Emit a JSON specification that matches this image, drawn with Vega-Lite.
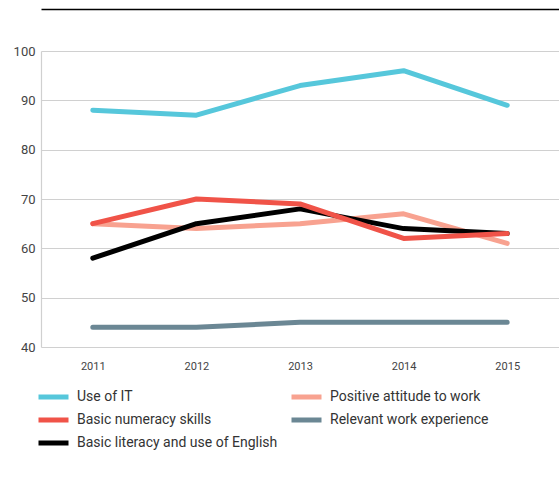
{
  "$schema": "https://vega.github.io/schema/vega-lite/v6.json",
  "autosize": {"type": "none"},
  "padding": {"left": 41, "top": 51, "right": 0, "bottom": 137},
  "width": 518,
  "height": 296,
  "config": {
    "font": "Roboto",
    "view": {"stroke": null},
    "axis": {"labelFont": "Roboto", "labelColor": "#444444"}
  },
  "data": {
    "values": [
      {"year": "2011", "series": "Use of IT", "value": 88},
      {"year": "2012", "series": "Use of IT", "value": 87},
      {"year": "2013", "series": "Use of IT", "value": 93},
      {"year": "2014", "series": "Use of IT", "value": 96},
      {"year": "2015", "series": "Use of IT", "value": 89},
      {"year": "2011", "series": "Relevant work experience", "value": 44},
      {"year": "2012", "series": "Relevant work experience", "value": 44},
      {"year": "2013", "series": "Relevant work experience", "value": 45},
      {"year": "2014", "series": "Relevant work experience", "value": 45},
      {"year": "2015", "series": "Relevant work experience", "value": 45},
      {"year": "2011", "series": "Positive attitude to work", "value": 65},
      {"year": "2012", "series": "Positive attitude to work", "value": 64},
      {"year": "2013", "series": "Positive attitude to work", "value": 65},
      {"year": "2014", "series": "Positive attitude to work", "value": 67},
      {"year": "2015", "series": "Positive attitude to work", "value": 61},
      {"year": "2011", "series": "Basic literacy and use of English", "value": 58},
      {"year": "2012", "series": "Basic literacy and use of English", "value": 65},
      {"year": "2013", "series": "Basic literacy and use of English", "value": 68},
      {"year": "2014", "series": "Basic literacy and use of English", "value": 64},
      {"year": "2015", "series": "Basic literacy and use of English", "value": 63},
      {"year": "2011", "series": "Basic numeracy skills", "value": 65},
      {"year": "2012", "series": "Basic numeracy skills", "value": 70},
      {"year": "2013", "series": "Basic numeracy skills", "value": 69},
      {"year": "2014", "series": "Basic numeracy skills", "value": 62},
      {"year": "2015", "series": "Basic numeracy skills", "value": 63}
    ]
  },
  "layer": [
    {
      "mark": {"type": "line", "strokeWidth": 5, "strokeCap": "round", "strokeJoin": "round"},
      "encoding": {
        "x": {
          "field": "year", "type": "ordinal",
          "scale": {"type": "point", "padding": 0.5},
          "axis": {"orient": "bottom", "title": null, "domain": false, "ticks": false, "labelAngle": 0, "labelFontSize": 11, "labelPadding": 13, "grid": false}
        },
        "y": {
          "field": "value", "type": "quantitative",
          "scale": {"domain": [40, 100], "nice": false, "zero": false},
          "axis": {"title": null, "values": [40, 50, 60, 70, 80, 90, 100], "ticks": false, "labelFontSize": 13, "labelPadding": 6, "gridColor": "#d0d0d0", "gridWidth": 1.2, "domainColor": "#d0d0d0", "domainWidth": 1.2}
        },
        "color": {
          "field": "series", "type": "nominal",
          "scale": {
            "domain": ["Use of IT", "Basic numeracy skills", "Basic literacy and use of English", "Positive attitude to work", "Relevant work experience"],
            "range": ["#56c7db", "#f05348", "#000000", "#f8a290", "#6b8794"]
          },
          "legend": {
            "title": null,
            "orient": "none",
            "legendX": -5,
            "legendY": 337,
            "columns": 2,
            "columnPadding": 11,
            "rowPadding": 5,
            "clipHeight": 18,
            "values": ["Use of IT", "Basic numeracy skills", "Basic literacy and use of English", "Positive attitude to work", "Relevant work experience"],
            "symbolType": "stroke",
            "symbolSize": 900,
            "symbolStrokeWidth": 5,
            "labelFontSize": 14,
            "labelOffset": 6,
            "labelColor": "#333333",
            "labelFont": "Roboto",
            "labelLimit": 400,
            "padding": 0
          }
        }
      }
    },
    {
      "mark": {"type": "rule", "strokeOpacity": 0},
      "encoding": {
        "x": {
          "field": "year", "type": "ordinal",
          "axis": {"orient": "top", "title": null, "labels": false, "ticks": false, "grid": false, "domain": true, "domainColor": "#000000", "domainWidth": 1.5, "offset": 42}
        }
      }
    }
  ],
  "resolve": {"axis": {"x": "independent"}}
}
